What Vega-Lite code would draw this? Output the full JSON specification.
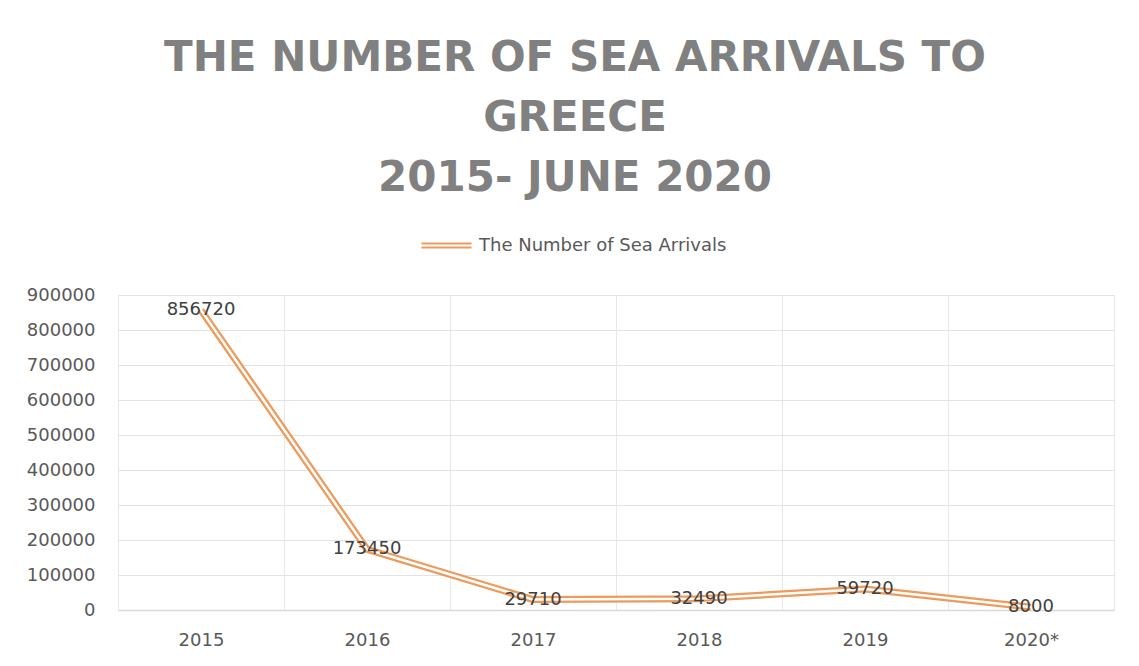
{
  "$schema": "https://vega.github.io/schema/vega-lite/v6.json",
  "autosize": {"type": "none"},
  "width": 996,
  "height": 315,
  "padding": {"left": 118, "top": 295, "right": 25, "bottom": 56},
  "background": "white",
  "title": {
    "text": ["THE NUMBER OF SEA ARRIVALS TO", "GREECE", "2015- JUNE 2020"],
    "anchor": "middle",
    "frame": "group",
    "dx": -41,
    "offset": 19,
    "font": "DejaVu Sans",
    "fontSize": 42,
    "fontWeight": "bold",
    "color": "#808080",
    "lineHeight": 60
  },
  "data": {
    "values": [
      {"year": "2015", "arrivals": 856720},
      {"year": "2016", "arrivals": 173450},
      {"year": "2017", "arrivals": 29710},
      {"year": "2018", "arrivals": 32490},
      {"year": "2019", "arrivals": 59720},
      {"year": "2020*", "arrivals": 8000}
    ]
  },
  "encoding": {
    "x": {
      "field": "year",
      "type": "nominal",
      "sort": null,
      "bandPosition": 0.5,
      "scale": {"type": "band", "paddingInner": 0, "paddingOuter": 0},
      "axis": {
        "title": null,
        "labelAngle": 0,
        "tickBand": "extent",
        "grid": true,
        "gridColor": "#e8e8e8",
        "ticks": false,
        "domain": true,
        "domainColor": "#d9d9d9",
        "domainWidth": 1.5,
        "labelFont": "DejaVu Sans",
        "labelFontSize": 18,
        "labelColor": "#595959",
        "labelPadding": 21
      }
    },
    "y": {
      "field": "arrivals",
      "type": "quantitative",
      "scale": {"domain": [0, 900000], "nice": false},
      "axis": {
        "title": null,
        "values": [0, 100000, 200000, 300000, 400000, 500000, 600000, 700000, 800000, 900000],
        "format": "d",
        "grid": true,
        "gridColor": "#e3e3e3",
        "ticks": false,
        "domain": false,
        "labelFont": "DejaVu Sans",
        "labelFontSize": 18,
        "labelColor": "#595959",
        "labelPadding": 23
      }
    }
  },
  "layer": [
    {
      "mark": {"type": "line", "strokeWidth": 7, "strokeJoin": "round"},
      "encoding": {
        "color": {
          "datum": "The Number of Sea Arrivals",
          "scale": {"range": ["#EE9A5C"]},
          "legend": {
            "title": null,
            "orient": "none",
            "legendX": 302,
            "legendY": -76,
            "symbolType": "M -1 -0.08 L 1 -0.08 M -1 0.08 L 1 0.08",
            "symbolSize": 2500,
            "symbolStrokeWidth": 2.2,
            "labelFont": "DejaVu Sans",
            "labelFontSize": 18,
            "labelLimit": 0,
            "labelColor": "#595959",
            "labelOffset": 6
          }
        }
      }
    },
    {
      "mark": {"type": "line", "strokeWidth": 2.5, "color": "white", "strokeJoin": "round"},
      "encoding": {}
    },
    {
      "mark": {"type": "text", "font": "DejaVu Sans", "fontSize": 18, "color": "#404040", "baseline": "middle", "align": "center"},
      "encoding": {
        "text": {"field": "arrivals", "type": "quantitative", "format": "d"}
      }
    }
  ]
}
